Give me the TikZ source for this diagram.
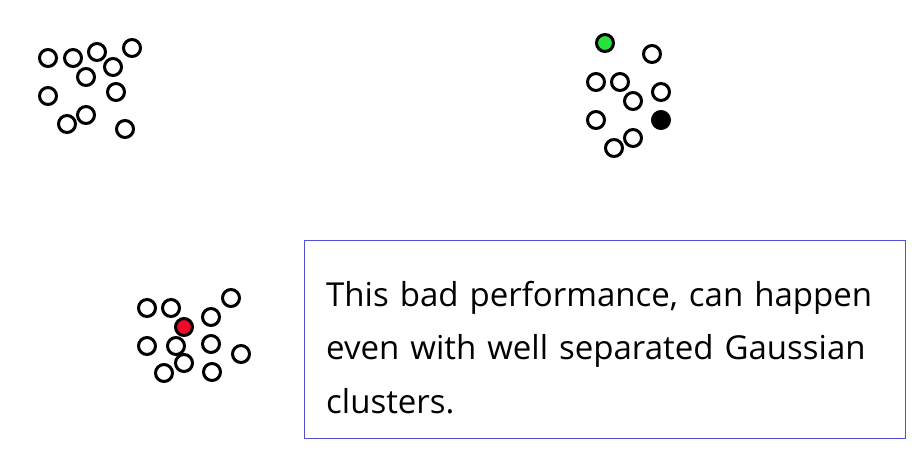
\documentclass[tikz,border=0pt]{standalone}
\usepackage{fontspec}
\setmainfont{Open Sans}
\usepackage{tikz}
\usetikzlibrary{positioning}
\definecolor{boxblue}{RGB}{80,80,215}
\definecolor{ptgreen}{RGB}{40,225,60}
\definecolor{ptred}{RGB}{240,10,40}

\begin{document}
\begin{tikzpicture}[x=1pt,y=-1pt,
  pt/.style={circle,draw=black,line width=3pt,fill=white,minimum size=17pt,inner sep=0pt},
  notebox/.style={draw=boxblue,line width=0.9pt,minimum width=601pt,minimum height=198pt,inner sep=0pt},
  notetext/.style={inner sep=0pt,align=left,text width=570pt,font=\fontsize{33}{53.5}\selectfont}]
\useasboundingbox (0,0) rectangle (923,459);
% upper left cluster
\foreach \x/\y [count=\i] in {48/58,73/58,97/52,132/48,113/67,86/77,48/96,116/92,86/115,67/124,125/129}
  \node[pt] (a\i) at (\x,\y) {};
% upper right cluster
\foreach \x/\y [count=\i] in {652/54,596/82,620/82,633/101,661/92,596/120,633/138,614/148}
  \node[pt] (b\i) at (\x,\y) {};
\node[pt,fill=ptgreen] (bgreen) at (605,43) {};
\node[pt,fill=black] (bblack) at (661,120) {};
% lower cluster
\foreach \x/\y [count=\i] in {147/308,171/308,231/298,211/317,147/346,176/346,211/344,241/354,184/363,164/373,212/372}
  \node[pt] (c\i) at (\x,\y) {};
\node[pt,fill=ptred] (cred) at (184,327) {};
% note
\node[notebox,anchor=north west] (note) at (304,240) {};
\node[notetext,anchor=north west] (msg) at ([xshift=22pt,yshift=-41pt]note.north west)
  {This bad performance, can happen\\ even with well separated Gaussian\\ clusters.};
\end{tikzpicture}
\end{document}
